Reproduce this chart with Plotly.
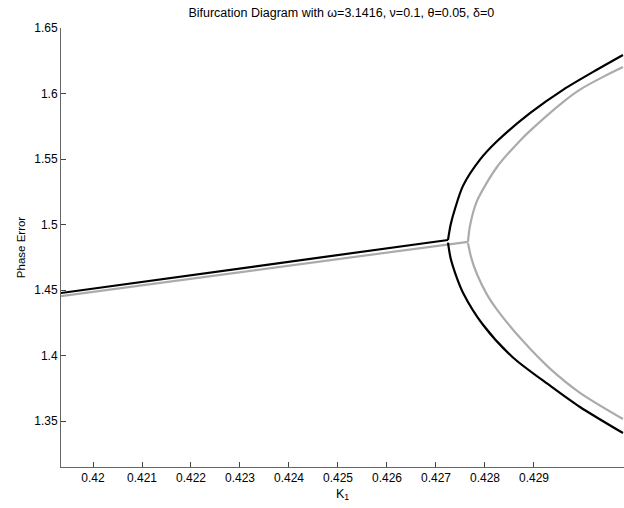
import plotly.graph_objects as go

# ---- data ----
# black (first) solution
black_main_k = [0.419347, 0.427245]
black_main_y = [1.4477, 1.4882]
black_up_k = [0.427245, 0.427300, 0.427388, 0.427551, 0.427898, 0.428245, 0.428918, 0.429600, 0.430300, 0.430816]
black_up_y = [1.4882, 1.5000, 1.5120, 1.5295, 1.5495, 1.5635, 1.5850, 1.6030, 1.6185, 1.6294]
black_lo_k = [0.427245, 0.427300, 0.427400, 0.427551, 0.427959, 0.428571, 0.429327, 0.429939, 0.430816]
black_lo_y = [1.4862, 1.4740, 1.4620, 1.4480, 1.4235, 1.3985, 1.3770, 1.3607, 1.3408]

# gray (second) solution
gray_main_k = [0.419347, 0.427653]
gray_main_y = [1.4454, 1.4868]
gray_up_k = [0.427653, 0.427694, 0.427837, 0.428245, 0.428714, 0.428918, 0.429592, 0.429939, 0.430400, 0.430816]
gray_up_y = [1.4868, 1.4990, 1.5180, 1.5439, 1.5640, 1.5715, 1.5935, 1.6030, 1.6125, 1.6202]
gray_lo_k = [0.427653, 0.427720, 0.427837, 0.428041, 0.428245, 0.428776, 0.429327, 0.429939, 0.430816]
gray_lo_y = [1.4859, 1.4745, 1.4620, 1.4465, 1.4350, 1.4110, 1.3900, 1.3715, 1.3515]

x_ticks = [0.420, 0.421, 0.422, 0.423, 0.424, 0.425, 0.426, 0.427, 0.428, 0.429]
x_tick_labels = ["0.42", "0.421", "0.422", "0.423", "0.424", "0.425", "0.426", "0.427", "0.428", "0.429"]
y_ticks = [1.35, 1.40, 1.45, 1.50, 1.55, 1.60, 1.65]
y_tick_labels = ["1.35", "1.4", "1.45", "1.5", "1.55", "1.6", "1.65"]

BLACK = "#000000"
GRAY = "#ababab"

fig = go.Figure()

def add(k, y, color, shape):
    fig.add_trace(go.Scatter(x=k, y=y, mode="lines",
                             line=dict(color=color, width=2.2, shape=shape, smoothing=0.8),
                             showlegend=False, hoverinfo="skip"))

add(gray_main_k, gray_main_y, GRAY, "linear")
add(gray_up_k, gray_up_y, GRAY, "spline")
add(gray_lo_k, gray_lo_y, GRAY, "spline")
add(black_main_k, black_main_y, BLACK, "linear")
add(black_up_k, black_up_y, BLACK, "spline")
add(black_lo_k, black_lo_y, BLACK, "spline")

font = "Liberation Sans, Arial, sans-serif"

fig.update_layout(
    width=624, height=508,
    margin=dict(l=61, r=0, t=28, b=41),
    paper_bgcolor="white", plot_bgcolor="white",
    font=dict(family=font, size=12, color="#000000"),
    title=dict(text="Bifurcation Diagram with ω=3.1416, ν=0.1, θ=0.05, δ=0",
               x=0.547, xanchor="center", y=0.975, yanchor="middle",
               font=dict(family=font, size=12.5, color="#000000")),
    xaxis=dict(range=[0.419347, 0.430837], tickvals=x_ticks, ticktext=x_tick_labels,
               ticks="inside", ticklen=5, tickcolor="#444444",
               showline=True, linecolor="#666666", linewidth=1,
               showgrid=False, zeroline=False, mirror=False,
               tickfont=dict(size=12),
               title=dict(text="K<sub>1</sub>", standoff=4, font=dict(size=12.5))),
    yaxis=dict(range=[1.3149, 1.65], tickvals=y_ticks, ticktext=y_tick_labels,
               ticks="inside", ticklen=5, tickcolor="#444444",
               showline=True, linecolor="#666666", linewidth=1,
               showgrid=False, zeroline=False, mirror=False,
               tickfont=dict(size=12),
               title=dict(text="Phase Error", standoff=6, font=dict(size=11.5))),
)

fig.write_html("out.html", config={"displayModeBar": False},
               post_script="document.body.style.margin='0';document.body.style.padding='0';")
